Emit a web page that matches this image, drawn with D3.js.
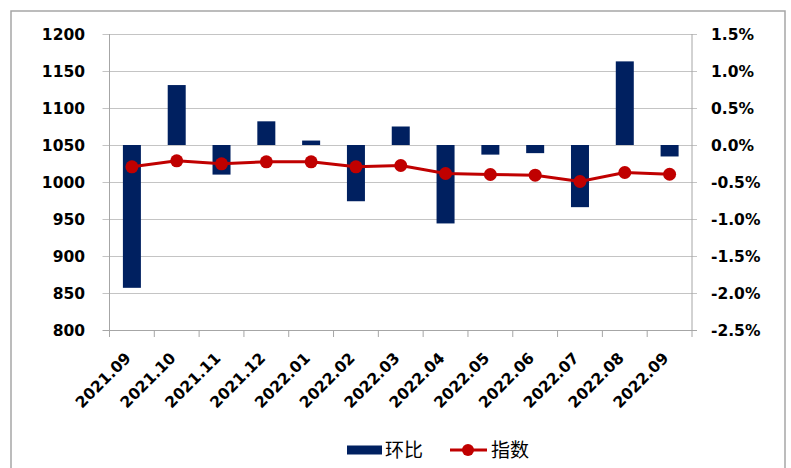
<!DOCTYPE html>
<html>
<head>
<meta charset="utf-8">
<script src="https://cdn.jsdelivr.net/npm/d3@7"></script>
<style>
  body { margin: 0; background: #fff; }
  svg { display: block; }
  .tick-label { font-family: "DejaVu Sans", sans-serif; font-weight: bold; font-size: 15.5px; fill: #000; }
  .legend-text { font-family: "Noto Sans CJK SC", sans-serif; font-size: 19px; fill: #000; }
</style>
</head>
<body>
<svg id="chart" width="791" height="468"></svg>
<script>
const months = ["2021.09", "2021.10", "2021.11", "2021.12", "2022.01", "2022.02", "2022.03",
                "2022.04", "2022.05", "2022.06", "2022.07", "2022.08", "2022.09"];
// 环比 (%), right axis
const mom = [-1.93, 0.81, -0.40, 0.32, 0.06, -0.76, 0.25, -1.06, -0.13, -0.11, -0.84, 1.13, -0.155];
// 指数, left axis
const index = [1020.5, 1028.6, 1024.6, 1027.3, 1027.3, 1020.5, 1022.3, 1011.5, 1010.1, 1009.2, 1000.7, 1012.8, 1010.5];
const leftTicks = [800, 850, 900, 950, 1000, 1050, 1100, 1150, 1200];
const rightTicks = [-2.5, -2.0, -1.5, -1.0, -0.5, 0.0, 0.5, 1.0, 1.5];

const barColor = "#002060";
const lineColor = "#c00000";

const svg = d3.select("#chart");
const plot = { left: 109.5, right: 692, top: 34, bottom: 330 };

// outer frame
svg.append("rect")
  .attr("x", 11).attr("y", 11)
  .attr("width", 774).attr("height", 470)
  .attr("fill", "none")
  .attr("stroke", "#a6a6a6")
  .attr("stroke-width", 1.5);

const x = d3.scaleBand().domain(months).range([plot.left, plot.right]);
const yL = d3.scaleLinear().domain([800, 1200]).range([plot.bottom, plot.top]);
const yR = d3.scaleLinear().domain([-2.5, 1.5]).range([plot.bottom, plot.top]);

// gridlines (with outward tick stubs on both sides)
svg.append("g")
  .selectAll("line")
  .data(leftTicks)
  .join("line")
    .attr("x1", plot.left - 7).attr("x2", plot.right + 5)
    .attr("y1", d => Math.round(yL(d)) + 0.5).attr("y2", d => Math.round(yL(d)) + 0.5)
    .attr("stroke", d => d === 800 ? "#a6a6a6" : "#c4c4c4")
    .attr("stroke-width", 1);

// left / right axis lines
svg.append("line")
  .attr("x1", plot.left).attr("x2", plot.left)
  .attr("y1", plot.top).attr("y2", plot.bottom + 7)
  .attr("stroke", "#a6a6a6");
svg.append("line")
  .attr("x1", plot.right).attr("x2", plot.right)
  .attr("y1", plot.top).attr("y2", plot.bottom + 7)
  .attr("stroke", "#a6a6a6");

// category ticks along bottom
svg.append("g")
  .selectAll("line")
  .data(months.slice(1))
  .join("line")
    .attr("x1", d => x(d)).attr("x2", d => x(d))
    .attr("y1", plot.bottom).attr("y2", plot.bottom + 7)
    .attr("stroke", "#a6a6a6");

// left labels
svg.append("g")
  .selectAll("text")
  .data(leftTicks)
  .join("text")
    .attr("class", "tick-label")
    .attr("x", 85)
    .attr("y", d => yL(d))
    .attr("dy", "0.36em")
    .attr("text-anchor", "end")
    .text(d => d);

// right labels
svg.append("g")
  .selectAll("text")
  .data(rightTicks)
  .join("text")
    .attr("class", "tick-label")
    .attr("x", 711)
    .attr("y", d => yR(d))
    .attr("dy", "0.36em")
    .attr("text-anchor", "start")
    .text(d => d.toFixed(1) + "%");

// x labels, rotated
svg.append("g")
  .selectAll("text")
  .data(months)
  .join("text")
    .attr("class", "tick-label")
    .attr("text-anchor", "end")
    .attr("transform", d => `translate(${x(d) + x.bandwidth() / 2},359) rotate(-45)`)
    .text(d => d);

// bars
const bw = 18;
svg.append("g")
  .attr("fill", barColor)
  .selectAll("rect")
  .data(months.map((m, i) => ({ m, v: mom[i] })))
  .join("rect")
    .attr("x", d => x(d.m) + x.bandwidth() / 2 - bw / 2)
    .attr("width", bw)
    .attr("y", d => yR(Math.max(0, d.v)))
    .attr("height", d => Math.abs(yR(d.v) - yR(0)));

// line + markers
const line = d3.line()
  .x((d, i) => x(months[i]) + x.bandwidth() / 2)
  .y(d => yL(d));
svg.append("path")
  .datum(index)
  .attr("d", line)
  .attr("fill", "none")
  .attr("stroke", lineColor)
  .attr("stroke-width", 3);
svg.append("g")
  .attr("fill", lineColor)
  .selectAll("circle")
  .data(index)
  .join("circle")
    .attr("cx", (d, i) => x(months[i]) + x.bandwidth() / 2)
    .attr("cy", d => yL(d))
    .attr("r", 6.5);

// legend
const lg = svg.append("g");
lg.append("rect")
  .attr("x", 347).attr("y", 445.5).attr("width", 35).attr("height", 9)
  .attr("fill", barColor);
lg.append("text").attr("class", "legend-text")
  .attr("x", 385).attr("y", 457).text("环比");
lg.append("line")
  .attr("x1", 450).attr("x2", 487).attr("y1", 450).attr("y2", 450)
  .attr("stroke", lineColor).attr("stroke-width", 3);
lg.append("circle")
  .attr("cx", 468).attr("cy", 450).attr("r", 6)
  .attr("fill", lineColor);
lg.append("text").attr("class", "legend-text")
  .attr("x", 491).attr("y", 457).text("指数");
</script>
</body>
</html>
